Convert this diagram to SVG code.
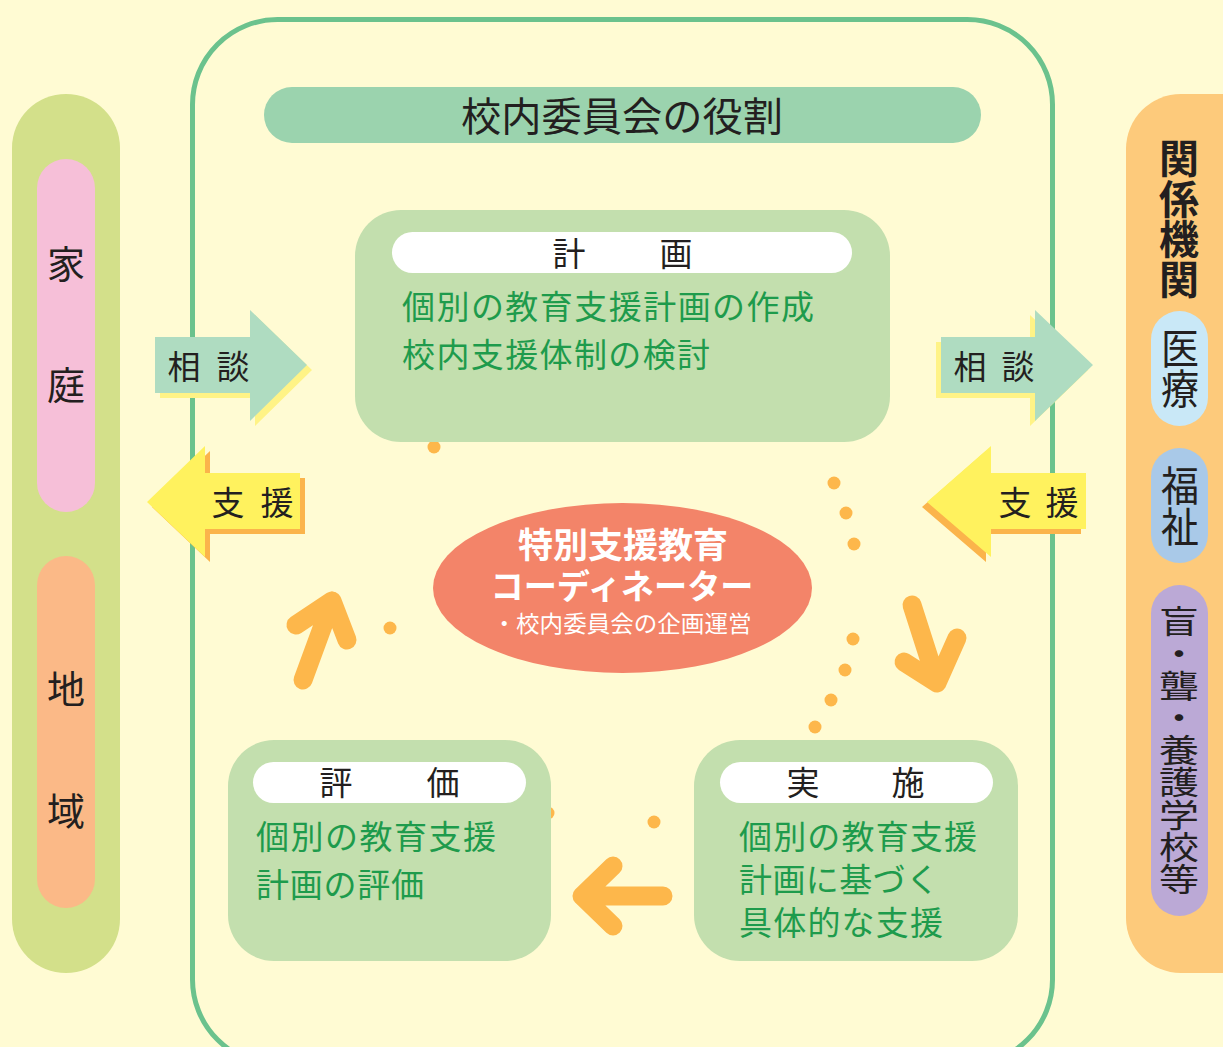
<svg xmlns="http://www.w3.org/2000/svg" width="1223" height="1047" viewBox="0 0 1223 1047">
<defs>
<style>
.jp{font-family:"Noto Sans CJK JP","Noto Sans",sans-serif;}
.jl{font-family:"Liberation Sans","Noto Sans CJK JP",sans-serif;}
.lbl{font-size:33px;fill:#231f20;text-anchor:middle;dominant-baseline:central;}
.grn{font-size:33px;fill:#1e9b4c;}
.box{fill:#c3dfae;}
.pill{fill:#ffffff;}
.dot{fill:#fdb74b;}
.oarrow{fill:none;stroke:#fdb74b;stroke-width:19;stroke-linecap:round;stroke-linejoin:round;}
.side{font-size:38px;fill:#231f20;text-anchor:middle;dominant-baseline:central;}
.vert{fill:#231f20;writing-mode:vertical-rl;text-anchor:start;}
</style>
</defs>
<rect x="0" y="0" width="1223" height="1047" fill="#fffbd3"/>

<g id="committee-frame">
<rect x="192.5" y="19.5" width="860" height="1045" rx="85" ry="85" fill="none" stroke="#6bc28d" stroke-width="5"/>
</g>

<g id="title">
<rect x="264" y="87" width="717" height="56" rx="28" fill="#9bd3ae"/>
<text class="jp" x="461" y="114" font-size="40" fill="#231f20" dominant-baseline="central" textLength="322" lengthAdjust="spacingAndGlyphs">校内委員会の役割</text>
</g>

<g id="home-community">
<rect x="12" y="94" width="108" height="879" rx="54" fill="#d3e08a"/>
<rect x="37" y="159" width="58" height="353" rx="29" fill="#f6bfd8"/>
<rect x="37" y="556" width="58" height="352" rx="29" fill="#fbb987"/>
<text class="jp side" x="66" y="261">家</text>
<text class="jp side" x="66" y="382">庭</text>
<text class="jp side" x="66" y="686">地</text>
<text class="jp side" x="66" y="808">域</text>
</g>

<g id="agencies">
<rect x="1126" y="94" width="160" height="879" rx="55" fill="#fdca7b"/>
<text class="jp vert" x="1179" y="138" font-size="40" font-weight="bold" textLength="161" lengthAdjust="spacingAndGlyphs">関係機関</text>
<rect x="1151" y="311" width="57" height="115" rx="28.5" fill="#c9e8f7"/>
<text class="jp vert" x="1180" y="328" font-size="38" textLength="81" lengthAdjust="spacingAndGlyphs">医療</text>
<rect x="1151" y="448" width="57" height="115" rx="28.5" fill="#a9c9e8"/>
<text class="jp vert" x="1180" y="465" font-size="38" textLength="82" lengthAdjust="spacingAndGlyphs">福祉</text>
<rect x="1151" y="585" width="57" height="331" rx="28.5" fill="#bba9d6"/>
<text class="jp vert" x="1179" y="605" font-size="40" textLength="290" lengthAdjust="spacingAndGlyphs">盲・聾・養護学校等</text>
</g>

<g id="connectors">
<g id="arrow-consult-left">
<polygon transform="translate(5,5)" points="155,337 250,337 250,310 307,365 250,421 250,393 155,393" fill="#fff386"/>
<polygon points="155,337 250,337 250,310 307,365 250,421 250,393 155,393" fill="#afdcc1"/>
<text class="jp lbl" x="184 233" y="365">相談</text>
</g>
<g id="arrow-support-left">
<polygon transform="translate(5,5)" points="300,473 205,473 205,446 147,502 205,557 205,529 300,529" fill="#fbb44b"/>
<polygon points="300,473 205,473 205,446 147,502 205,557 205,529 300,529" fill="#fff25e"/>
<text class="jp lbl" x="228 277" y="501">支援</text>
</g>
<g id="arrow-consult-right">
<polygon transform="translate(-5,5)" points="941,337 1035,337 1035,310 1093,365 1035,421 1035,393 941,393" fill="#fff386"/>
<polygon points="941,337 1035,337 1035,310 1093,365 1035,421 1035,393 941,393" fill="#afdcc1"/>
<text class="jp lbl" x="970 1018" y="365">相談</text>
</g>
<g id="arrow-support-right">
<polygon transform="translate(-5,5)" points="1086,473 991,473 991,446 927,502 991,557 991,529 1086,529" fill="#fbb44b"/>
<polygon points="1086,473 991,473 991,446 927,502 991,557 991,529 1086,529" fill="#fff25e"/>
<text class="jp lbl" x="1015 1062" y="501">支援</text>
</g>
<circle class="dot" cx="434" cy="447" r="6.5"/>
<circle class="dot" cx="834" cy="483" r="6.5"/>
<circle class="dot" cx="846" cy="513" r="6.5"/>
<circle class="dot" cx="854" cy="544" r="6.5"/>
<circle class="dot" cx="853" cy="639" r="6.5"/>
<circle class="dot" cx="845" cy="670" r="6.5"/>
<circle class="dot" cx="831" cy="700" r="6.5"/>
<circle class="dot" cx="815" cy="727" r="6.5"/>
<circle class="dot" cx="390" cy="628" r="6.5"/>
<circle class="dot" cx="654" cy="822" r="6.5"/>
<circle class="dot" cx="548" cy="813" r="6.5"/>
<path class="oarrow" d="M303,680 L332,601 M296,625 L332,601 L347,640"/>
<path class="oarrow" d="M912,605 L937,683 M904,662 L937,683 L957,638"/>
<path class="oarrow" d="M663,896 L582,896 M613,866 L582,896 L613,926"/>
</g>

<g id="node-plan">
<rect class="box" x="355" y="210" width="535" height="232" rx="46"/>
<rect class="pill" x="392" y="232" width="460" height="41" rx="20.5"/>
<text class="jp lbl" x="569 676" y="252" font-size="34">計画</text>
<text class="jl grn"><tspan x="402" y="319" textLength="412" lengthAdjust="spacing">個別の教育支援計画の作成</tspan><tspan x="402" y="367" textLength="308" lengthAdjust="spacing">校内支援体制の検討</tspan></text>
</g>

<g id="node-evaluation">
<rect class="box" x="228" y="740" width="323" height="221" rx="46"/>
<rect class="pill" x="253" y="762" width="273" height="41" rx="20.5"/>
<text class="jp lbl" x="336 443" y="781" font-size="34">評価</text>
<text class="jl grn"><tspan x="256" y="849" textLength="240" lengthAdjust="spacing">個別の教育支援</tspan><tspan x="256" y="897" textLength="168" lengthAdjust="spacing">計画の評価</tspan></text>
</g>

<g id="node-implementation">
<rect class="box" x="694" y="740" width="324" height="221" rx="46"/>
<rect class="pill" x="720" y="762" width="273" height="41" rx="20.5"/>
<text class="jp lbl" x="803 908" y="781" font-size="34">実施</text>
<text class="jl grn"><tspan x="739" y="849" textLength="238" lengthAdjust="spacing">個別の教育支援</tspan><tspan x="739" y="892" textLength="200" lengthAdjust="spacing">計画に基づく</tspan><tspan x="739" y="935" textLength="204" lengthAdjust="spacing">具体的な支援</tspan></text>
</g>

<g id="node-coordinator">
<ellipse cx="622.5" cy="588" rx="189.5" ry="85" fill="#f38469"/>
<text class="jl" fill="#ffffff" text-anchor="middle"><tspan x="623" y="558" font-size="35" font-weight="bold" textLength="210" lengthAdjust="spacingAndGlyphs">特別支援教育</tspan><tspan x="622" y="599" font-size="34" font-weight="bold" textLength="263" lengthAdjust="spacingAndGlyphs">コーディネーター</tspan><tspan x="622" y="632" font-size="23" textLength="259" lengthAdjust="spacingAndGlyphs">・校内委員会の企画運営</tspan></text>
</g>
</svg>
